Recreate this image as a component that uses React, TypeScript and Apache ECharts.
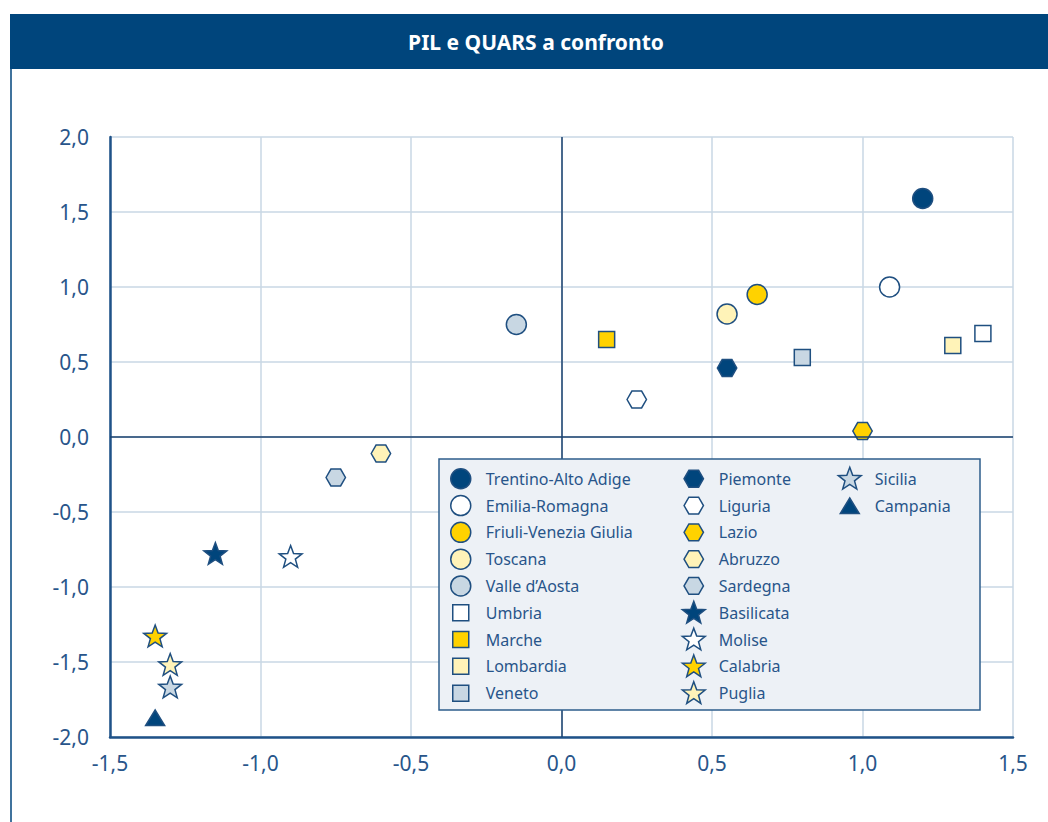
import React, { useEffect, useRef } from "react";
import * as echarts from "echarts";

// ---- data ----
const regions = [
  "Trentino-Alto Adige", "Emilia-Romagna", "Friuli-Venezia Giulia", "Toscana", "Valle d’Aosta",
  "Umbria", "Marche", "Lombardia", "Veneto",
  "Piemonte", "Liguria", "Lazio", "Abruzzo", "Sardegna",
  "Basilicata", "Molise", "Calabria", "Puglia", "Sicilia", "Campania",
];
const pil = [1.20, 1.09, 0.65, 0.55, -0.15, 1.40, 0.15, 1.30, 0.80, 0.55, 0.25, 1.00, -0.60, -0.75, -1.15, -0.90, -1.35, -1.30, -1.30, -1.35];
const quars = [1.59, 1.00, 0.95, 0.82, 0.75, 0.69, 0.65, 0.61, 0.53, 0.46, 0.25, 0.04, -0.11, -0.27, -0.78, -0.80, -1.33, -1.52, -1.67, -1.87];
const legendCol1 = regions.slice(0, 9);
const legendCol2 = regions.slice(9, 18);
const legendCol3 = regions.slice(18);
const chartTitle = "PIL e QUARS a confronto";

// ---- styles ----
const DARK = "#00457c";
const EDGE = "#1f4f80";
const YELLOW = "#ffd200";
const LIGHTYELLOW = "#fff3b8";
const GREYBLUE = "#c8d7e3";
const WHITE = "#ffffff";
const TEXT = "#28558a";

const BOX = "M0,0 M24,24 ";
const CIRCLE = "path://" + BOX + "M2,12 A10,10 0 1,1 22,12 A10,10 0 1,1 2,12 Z";
const SQUARE = "path://" + BOX + "M4,4 L20,4 L20,20 L4,20 Z";
const HEX = "path://" + BOX + "M2.3,12 L7.15,3.6 L16.85,3.6 L21.7,12 L16.85,20.4 L7.15,20.4 Z";
const TRI = "path://" + BOX + "M2.5,20 L12,4.5 L21.5,20 Z";
const starPts: string[] = [];
for (let i = 0; i < 10; i++) {
  const a = (-90 + i * 36) * Math.PI / 180;
  const r = i % 2 === 0 ? 12 : 5;
  starPts.push((12 + r * Math.cos(a)).toFixed(2) + "," + (12.6 + r * Math.sin(a)).toFixed(2));
}
const STAR = "path://" + BOX + "M" + starPts.join(" L") + " Z";

const symbols = [
  CIRCLE, CIRCLE, CIRCLE, CIRCLE, CIRCLE,
  SQUARE, SQUARE, SQUARE, SQUARE,
  HEX, HEX, HEX, HEX, HEX,
  STAR, STAR, STAR, STAR, STAR, TRI,
];
const fills = [
  DARK, WHITE, YELLOW, LIGHTYELLOW, GREYBLUE,
  WHITE, YELLOW, LIGHTYELLOW, GREYBLUE,
  DARK, WHITE, YELLOW, LIGHTYELLOW, GREYBLUE,
  DARK, WHITE, YELLOW, LIGHTYELLOW, GREYBLUE, DARK,
];

const fmt = (v: number) => v.toFixed(1).replace(".", ",");

export default function App() {
  const ref = useRef<HTMLDivElement>(null);
  useEffect(() => {
    if (!ref.current) return;
    const chart = echarts.init(ref.current, undefined, { renderer: "svg" });
    const legendBase = {
      orient: "vertical" as const,
      itemWidth: 40,
      itemHeight: 24,
      itemGap: 1.3,
      selectedMode: false,
      z: 10,
      itemStyle: { borderWidth: 1.5 },
      textStyle: { color: TEXT, fontSize: 16, fontFamily: "Noto Sans" },
    };
    const series: any[] = [
      {
        type: "scatter",
        data: [],
        silent: true,
        markLine: {
          silent: true,
          symbol: ["none", "none"],
          label: { show: false },
          lineStyle: { type: "solid", color: "#1a416e", width: 1.5 },
          data: [{ xAxis: 0 }, { yAxis: 0 }],
        },
      },
    ];
    regions.forEach((name, i) => {
      series.push({
        type: "scatter",
        name,
        symbol: symbols[i],
        symbolSize: 24,
        itemStyle: { color: fills[i], borderColor: EDGE, borderWidth: 1.5, opacity: 1 },
        data: [[pil[i], quars[i]]],
      });
    });
    chart.setOption({
      animation: false,
      grid: { left: 110, top: 137, width: 903, height: 600 },
      xAxis: {
        type: "value",
        min: -1.5,
        max: 1.5,
        interval: 0.5,
        axisLine: { onZero: false, lineStyle: { color: "#1f5288", width: 2.5 } },
        axisTick: { show: false },
        splitLine: { lineStyle: { color: "#c9d7e5", width: 1.5 } },
        axisLabel: { color: TEXT, fontSize: 21, fontFamily: "Noto Sans", margin: 15, formatter: fmt },
      },
      yAxis: {
        type: "value",
        min: -2,
        max: 2,
        interval: 0.5,
        axisLine: { onZero: false, lineStyle: { color: "#1f5288", width: 2.5 } },
        axisTick: { show: false },
        splitLine: { lineStyle: { color: "#c9d7e5", width: 1.5 } },
        axisLabel: { color: TEXT, fontSize: 21, fontFamily: "Noto Sans", margin: 21, formatter: fmt },
      },
      legend: [
        { ...legendBase, left: 443, top: 461, data: legendCol1 },
        { ...legendBase, left: 676, top: 461, data: legendCol2 },
        { ...legendBase, left: 832, top: 461, data: legendCol3 },
      ],
      graphic: [
        { type: "rect", shape: { x: 10, y: 14, width: 1040, height: 55 }, style: { fill: DARK }, z: 1 },
        {
          type: "text",
          x: 536,
          y: 42,
          z: 2,
          style: {
            text: chartTitle,
            fill: WHITE,
            fontSize: 21,
            fontWeight: "bold",
            fontFamily: "Noto Sans",
            align: "center",
            verticalAlign: "middle",
          },
        },
        { type: "line", shape: { x1: 11, y1: 69, x2: 11, y2: 822 }, style: { stroke: DARK, lineWidth: 1.5 }, z: 1 },
        {
          type: "rect",
          shape: { x: 439, y: 459, width: 541, height: 251 },
          style: { fill: "#edf1f6", stroke: "#2e5e8c", lineWidth: 1.5 },
          z: 6,
        },
      ],
      series,
    });
    return () => chart.dispose();
  }, []);
  return <div ref={ref} style={{ position: "absolute", left: 0, top: 0, width: 1048, height: 822 }} />;
}
